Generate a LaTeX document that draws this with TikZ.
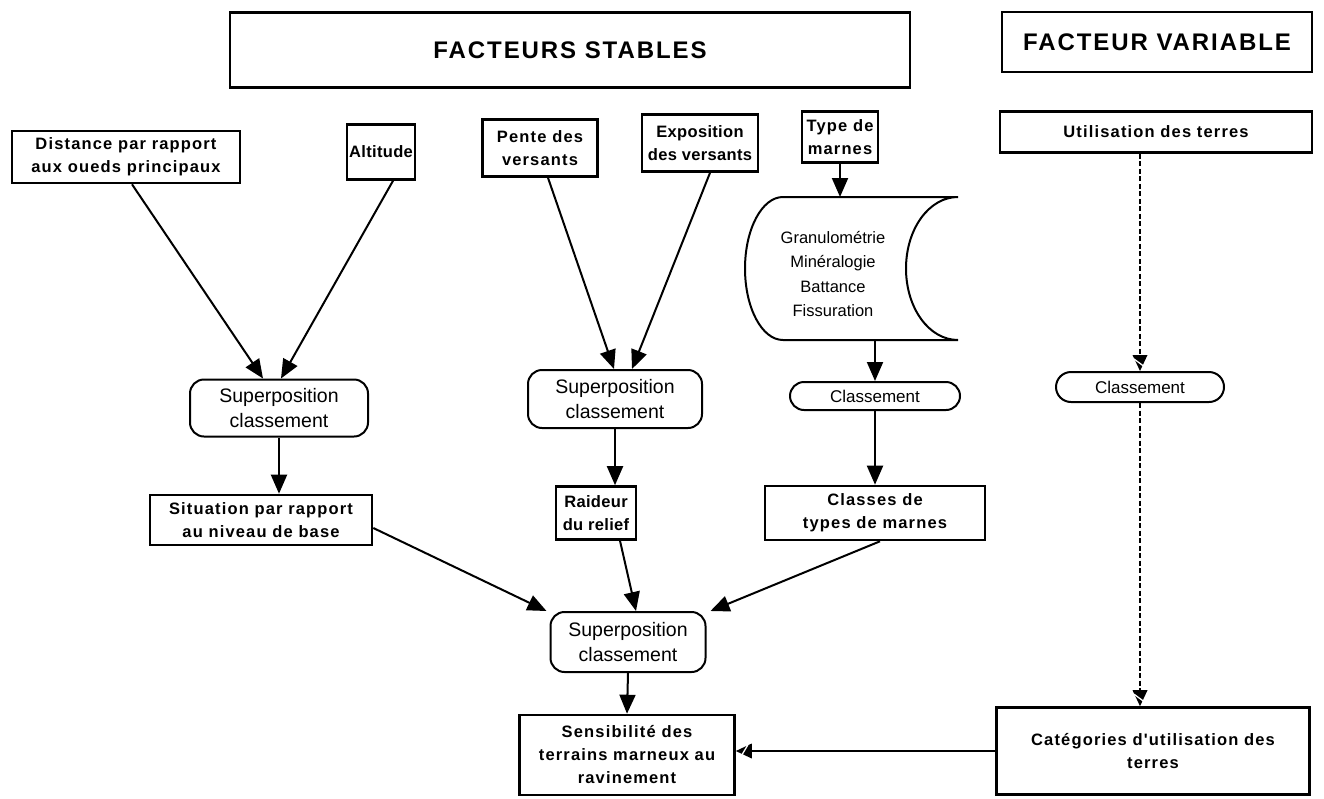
\documentclass[tikz,border=0pt]{standalone}
\usepackage{fontspec}
\setmainfont{Liberation Sans}
\newfontfamily\tfnt[LetterSpace=8]{Liberation Sans}
\newfontfamily\bfnt[LetterSpace=7]{Liberation Sans}
\newfontfamily\bfntn[LetterSpace=2]{Liberation Sans}
\usetikzlibrary{arrows.meta,calc}
\tikzset{
  bbox/.style={draw, line width=2.6pt, align=center, inner sep=1pt,
    font=\bfnt\bfseries\fontsize{16.5}{23}\selectfont},
  tbox/.style={draw, line width=2.2pt, align=center,
    font=\tfnt\bfseries\fontsize{24}{28}\selectfont},
  rbox/.style={draw, line width=2pt, rounded corners=14pt, align=center, inner sep=2pt,
    font=\fontsize{19.5}{24.5}\selectfont},
  cbox/.style={draw, line width=2pt, rounded corners=13pt, align=center, inner sep=2pt,
    font=\fontsize{17}{20}\selectfont},
  conn/.style={line width=2pt, -{Triangle[length=19pt,width=16pt]}},
  dconn/.style={line width=2.2pt, dash pattern=on 5pt off 2.5pt},
  stripe/.style={white, line width=1.3pt}
}
\begin{document}
\begin{tikzpicture}[x=1pt,y=-1pt]
\useasboundingbox[fill=white] (0,0) rectangle (1324,798);

% titles
\node[tbox, minimum width=680pt, minimum height=75pt] (stab) at (570,50) {FACTEURS STABLES};
\node[tbox, minimum width=310pt, minimum height=60pt] (var) at (1157,42) {FACTEUR VARIABLE};

% top boxes
\node[bbox, minimum width=228pt, minimum height=52pt] (dist) at (126,157) {Distance par rapport\\aux oueds principaux};
\node[bbox, minimum width=68pt, minimum height=55pt, inner sep=0pt, font=\bfntn\bfseries\fontsize{16.5}{23}\selectfont] (alt) at (381,152) {Altitude};
\node[bbox, minimum width=115pt, minimum height=57pt] (pente) at (540,148) {Pente des\\versants};
\node[bbox, minimum width=116pt, minimum height=57pt, font=\bfntn\bfseries\fontsize{16.5}{23}\selectfont] (expo) at (700,143) {Exposition\\des versants};
\node[bbox, minimum width=76pt, minimum height=51pt] (type) at (840,137) {Type de\\marnes};
\node[bbox, minimum width=312pt, minimum height=41pt] (util) at (1156,132) {Utilisation des terres};

% drum (stored data)
\draw[line width=2pt] (783,197) -- (958,197)
  .. controls (929,197) and (906,229) .. (906,268.5)
  .. controls (906,308) and (929,340) .. (958,340)
  -- (783,340)
  .. controls (762,340) and (745,308) .. (745,268.5)
  .. controls (745,229) and (762,197) .. (783,197);
\coordinate (drumtop) at (840,197);
\coordinate (drumbot) at (875,340);
\node[align=center, font=\fontsize{16.5}{24.5}\selectfont] (drumtxt) at (833,274)
  {Granulométrie\\Minéralogie\\Battance\\Fissuration};

% middle nodes
\node[rbox, minimum width=178pt, minimum height=57pt] (supL) at (279,408) {Superposition\\classement};
\node[rbox, minimum width=174pt, minimum height=58pt] (supM) at (615,399) {Superposition\\classement};
\node[cbox, minimum width=170pt, minimum height=28pt, rounded corners=14pt] (clsM) at (875,396) {Classement};
\node[cbox, minimum width=168pt, minimum height=30pt, rounded corners=15pt] (clsR) at (1140,387) {Classement};

\node[bbox, minimum width=222pt, minimum height=50pt] (sit) at (261,520) {Situation par rapport\\au niveau de base};
\node[bbox, minimum width=80pt, minimum height=53pt, font=\bfntn\bfseries\fontsize{16.5}{23}\selectfont] (raid) at (596,513) {Raideur\\du relief};
\node[bbox, minimum width=220pt, minimum height=54pt] (clsT) at (875,513) {Classes de\\types de marnes};

\node[rbox, minimum width=155pt, minimum height=60pt] (supB) at (628,642) {Superposition\\classement};
\node[bbox, minimum width=215pt, minimum height=80pt] (sens) at (627,755) {Sensibilité des\\terrains marneux au\\ravinement};
\node[bbox, minimum width=313pt, minimum height=87pt] (cat) at (1153,751) {Catégories d'utilisation des\\terres};

% connectors
\draw[conn] ([xshift=6pt]dist.south) -- ([xshift=-16pt]supL.north);
\draw[conn] ([xshift=12pt]alt.south) -- ([xshift=2pt]supL.north);
\draw[conn] ([xshift=8pt]pente.south) -- ([xshift=-1pt]supM.north);
\draw[conn] ([xshift=10pt]expo.south) -- ([xshift=17pt]supM.north);
\draw[conn] (type.south) -- (drumtop);
\draw[conn] (drumbot) -- (clsM.north);
\draw[conn] (clsM.south) -- (clsT.north);
\draw[conn] (supL.south) -- (supL.south |- sit.north);
\draw[conn] (supM.south) -- (supM.south |- raid.north);
\draw[conn] ([yshift=-8pt]sit.east) -- ([xshift=-3pt]supB.north west);
\draw[conn] ([xshift=24pt]raid.south) -- ([xshift=8pt]supB.north);
\draw[conn] ([xshift=5pt]clsT.south) -- ([xshift=4pt]supB.north east);
\draw[conn] (supB.south) -- (sens.north);

% hatched (dashed) connectors of the variable factor
\draw[dconn] (clsR.north |- util.south) -- ([yshift=14pt]clsR.north);
\fill ([xshift=-7.5pt,yshift=16pt]clsR.north) -- (clsR.north) -- ([xshift=7.5pt,yshift=16pt]clsR.north) -- cycle;
\draw[stripe] ([xshift=-6pt,yshift=12pt]clsR.north) -- ([xshift=3.5pt,yshift=5pt]clsR.north);

\coordinate (catTop) at (clsR.south |- cat.north);
\draw[dconn] (clsR.south) -- ([yshift=14pt]catTop);
\fill ([xshift=-7.5pt,yshift=16pt]catTop) -- (catTop) -- ([xshift=7.5pt,yshift=16pt]catTop) -- cycle;
\draw[stripe] ([xshift=-6pt,yshift=12pt]catTop) -- ([xshift=3.5pt,yshift=5pt]catTop);

\coordinate (sensR) at (cat.west -| sens.east);
\draw[line width=2pt] (cat.west) -- ([xshift=14pt]sensR);
\fill ([xshift=16pt,yshift=7.5pt]sensR) -- (sensR) -- ([xshift=16pt,yshift=-7.5pt]sensR) -- cycle;
\draw[stripe] ([xshift=6pt,yshift=-4pt]sensR) -- ([xshift=12pt,yshift=6pt]sensR);
\end{tikzpicture}
\end{document}
